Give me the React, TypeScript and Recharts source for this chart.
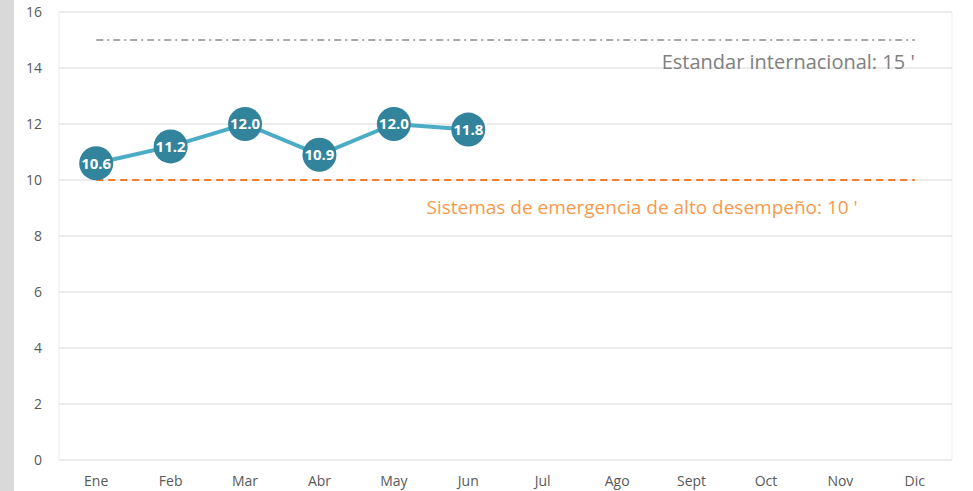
import {
  LineChart,
  Line,
  XAxis,
  YAxis,
  CartesianGrid,
  ReferenceLine,
  LabelList,
} from "recharts";

const months = ["Ene", "Feb", "Mar", "Abr", "May", "Jun", "Jul", "Ago", "Sept", "Oct", "Nov", "Dic"];
const tiempos = [10.6, 11.2, 12.0, 10.9, 12.0, 11.8];
const yTicks = [0, 2, 4, 6, 8, 10, 12, 14, 16];
const estandarInternacional = 15;
const altoDesempeno = 10;

const data = months.map((m, i) => ({ mes: m, pos: i + 0.5, tiempo: tiempos[i] }));
const monthTicks = months.map((_, i) => i + 0.5);
const gridTicks = Array.from({ length: 25 }, (_, i) => i / 2);

const FONT = "'Open Sans', sans-serif";

const GrayLabel = (props: any) => {
  const { viewBox } = props;
  return (
    <text
      x={viewBox.x + viewBox.width}
      y={viewBox.y + 29}
      textAnchor="end"
      fill="#808080"
      fontSize={20}
      fontFamily={FONT}
    >
      Estandar internacional: 15 '
    </text>
  );
};

const OrangeLabel = (props: any) => {
  const { viewBox } = props;
  return (
    <text
      x={viewBox.x + viewBox.width - 57}
      y={viewBox.y + 34}
      textAnchor="end"
      fill="#f79a4c"
      fontSize={19}
      fontFamily={FONT}
    >
      Sistemas de emergencia de alto desempeño: 10 '
    </text>
  );
};

export default function App() {
  return (
    <div
      style={{
        position: "fixed",
        left: 0,
        top: 0,
        width: 973,
        height: 491,
        background: "#fff",
        overflow: "hidden",
      }}
    >
      <div style={{ position: "absolute", left: 0, top: 0, width: 14, height: 491, background: "#d9d9d9" }} />
      <div style={{ position: "absolute", left: 14, top: 0 }}>
        <LineChart
          width={959}
          height={491}
          data={data}
          margin={{ top: 12, right: 21, bottom: 0, left: 0 }}
          style={{ fontFamily: FONT }}
        >
          <CartesianGrid xAxisId="grid" horizontal={false} stroke="#ebebeb" />
          <CartesianGrid xAxisId="grid" vertical={false} stroke="#d9d9d9" />
          <XAxis
            xAxisId="grid"
            type="number"
            dataKey="pos"
            domain={[0, 12]}
            ticks={gridTicks}
            height={0}
            tick={false}
            axisLine={false}
            tickLine={false}
            orientation="top"
          />
          <XAxis
            type="number"
            dataKey="pos"
            domain={[0, 12]}
            ticks={monthTicks}
            interval={0}
            tickFormatter={(v: number) => months[Math.round(v - 0.5)]}
            axisLine={false}
            tickLine={false}
            height={31}
            tickMargin={10}
            tick={{ fill: "#595959", fontSize: 14 }}
          />
          <YAxis
            domain={[0, 16]}
            ticks={yTicks}
            interval={0}
            width={45}
            axisLine={false}
            tickLine={false}
            tickMargin={11}
            tick={{ fill: "#595959", fontSize: 14 }}
          />
          <ReferenceLine
            segment={[
              { x: monthTicks[0], y: estandarInternacional },
              { x: monthTicks[11], y: estandarInternacional },
            ]}
            stroke="#8c8c8c"
            strokeWidth={1.3}
            strokeDasharray="7 4 2 4"
            label={<GrayLabel />}
          />
          <ReferenceLine
            segment={[
              { x: monthTicks[0], y: altoDesempeno },
              { x: monthTicks[11], y: altoDesempeno },
            ]}
            stroke="#f07c2c"
            strokeWidth={2}
            strokeDasharray="7 5"
            label={<OrangeLabel />}
          />
          <Line
            dataKey="tiempo"
            stroke="#4bacc6"
            strokeWidth={4}
            dot={{ r: 17, fill: "#31849b", stroke: "none" }}
            activeDot={false}
            isAnimationActive={false}
          >
            <LabelList
              dataKey="tiempo"
              position="center"
              formatter={(v: any) => (typeof v === "number" ? v.toFixed(1) : "")}
              fill="#ffffff"
              fontSize={15}
              fontWeight="bold"
            />
          </Line>
        </LineChart>
      </div>
    </div>
  );
}
